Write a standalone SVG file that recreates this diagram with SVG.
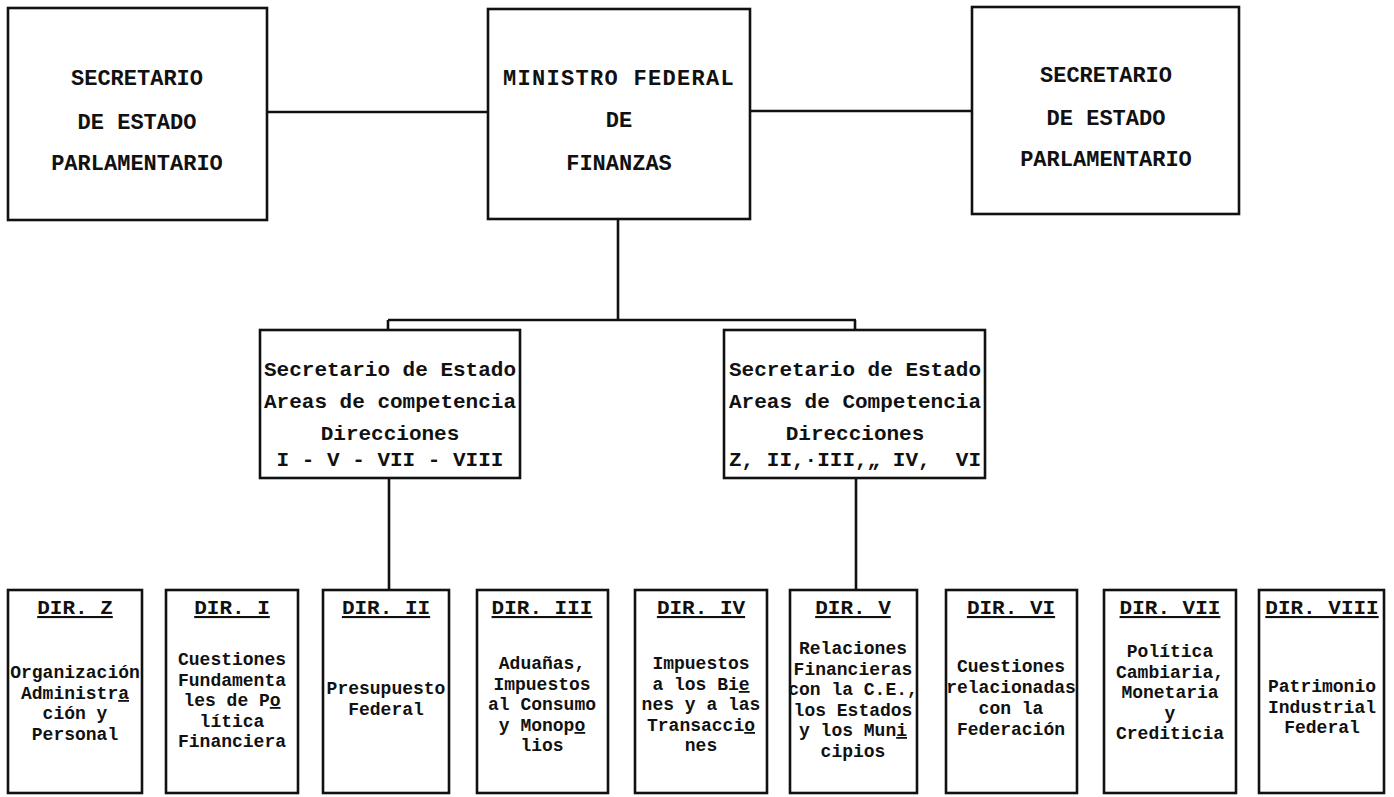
<svg xmlns="http://www.w3.org/2000/svg" width="1394" height="797" viewBox="0 0 1394 797">
<style>
.box{fill:#fff;stroke:#111;stroke-width:2.6}
.ln{fill:none;stroke:#111;stroke-width:2.6}
text{font-family:"Liberation Mono","Courier New",monospace;fill:#111;text-anchor:middle;font-weight:bold}
.top{font-size:22px}
.mid{font-size:21px}
.hd{font-size:21px;text-decoration:underline}
.bd{font-size:18px}
.u{text-decoration:underline}
</style>
<rect width="1394" height="797" fill="#fff"/>
<g id="connectors">
<line class="ln" x1="267" y1="112" x2="488" y2="112"/>
<line class="ln" x1="750" y1="111" x2="972" y2="111"/>
<line class="ln" x1="618" y1="219" x2="618" y2="320"/>
<line class="ln" x1="388" y1="320" x2="856" y2="320"/>
<line class="ln" x1="388" y1="320" x2="388" y2="330"/>
<line class="ln" x1="855" y1="320" x2="855" y2="330"/>
<line class="ln" x1="389" y1="478" x2="389" y2="590"/>
<line class="ln" x1="856" y1="478" x2="856" y2="590"/>
</g>
<g id="sec-parl-left">
<rect class="box" x="8" y="8" width="259" height="212"/>
<text class="top" x="137" y="85">SECRETARIO</text>
<text class="top" x="137" y="129">DE ESTADO</text>
<text class="top" x="137" y="170">PARLAMENTARIO</text>
</g>
<g id="ministro">
<rect class="box" x="488" y="9" width="262" height="210"/>
<text class="top" x="619" y="85" letter-spacing="1.3">MINISTRO FEDERAL</text>
<text class="top" x="619" y="127">DE</text>
<text class="top" x="619" y="170">FINANZAS</text>
</g>
<g id="sec-parl-right">
<rect class="box" x="972" y="7" width="267" height="207"/>
<text class="top" x="1106" y="82">SECRETARIO</text>
<text class="top" x="1106" y="125">DE ESTADO</text>
<text class="top" x="1106" y="166">PARLAMENTARIO</text>
</g>
<g id="sec-estado-1">
<rect class="box" x="260" y="330" width="260" height="148"/>
<text class="mid" x="390" y="376">Secretario de Estado</text>
<text class="mid" x="390" y="408">Areas de competencia</text>
<text class="mid" x="390" y="440">Direcciones</text>
<text class="mid" x="390" y="466">I - V - VII - VIII</text>
</g>
<g id="sec-estado-2">
<rect class="box" x="724" y="330" width="261" height="148"/>
<text class="mid" x="855" y="376">Secretario de Estado</text>
<text class="mid" x="855" y="408">Areas de Competencia</text>
<text class="mid" x="855" y="440">Direcciones</text>
<text class="mid" x="855" y="466" xml:space="preserve">Z, II,·III,„ IV,  VI</text>
</g>
<g id="dir-z">
<rect class="box" x="8" y="590" width="134" height="203"/>
<text class="hd" x="75" y="614">DIR. Z</text>
<text class="bd" x="75" y="678">Organización</text>
<text class="bd" x="75" y="699">Administr<tspan class="u">a</tspan></text>
<text class="bd" x="75" y="719">ción y</text>
<text class="bd" x="75" y="740">Personal</text>
</g>
<g id="dir-i">
<rect class="box" x="166" y="590" width="132" height="203"/>
<text class="hd" x="232" y="614">DIR. I</text>
<text class="bd" x="232" y="665">Cuestiones</text>
<text class="bd" x="232" y="686">Fundamenta</text>
<text class="bd" x="232" y="706" xml:space="preserve">les de P<tspan class="u">o</tspan></text>
<text class="bd" x="232" y="727">lítica</text>
<text class="bd" x="232" y="747">Financiera</text>
</g>
<g id="dir-ii">
<rect class="box" x="323" y="590" width="126" height="203"/>
<text class="hd" x="386" y="614">DIR. II</text>
<text class="bd" x="386" y="694">Presupuesto</text>
<text class="bd" x="386" y="715">Federal</text>
</g>
<g id="dir-iii">
<rect class="box" x="477" y="590" width="131" height="203"/>
<text class="hd" x="542" y="614">DIR. III</text>
<text class="bd" x="542" y="669">Aduañas,</text>
<text class="bd" x="542" y="690">Impuestos</text>
<text class="bd" x="542" y="710">al Consumo</text>
<text class="bd" x="542" y="731">y Monop<tspan class="u">o</tspan></text>
<text class="bd" x="542" y="751">lios</text>
</g>
<g id="dir-iv">
<rect class="box" x="635" y="590" width="132" height="203"/>
<text class="hd" x="701" y="614">DIR. IV</text>
<text class="bd" x="701" y="669">Impuestos</text>
<text class="bd" x="701" y="690">a los Bi<tspan class="u">e</tspan></text>
<text class="bd" x="701" y="710">nes y a las</text>
<text class="bd" x="701" y="731">Transacci<tspan class="u">o</tspan></text>
<text class="bd" x="701" y="751">nes</text>
</g>
<g id="dir-v">
<rect class="box" x="790" y="590" width="127" height="203"/>
<text class="hd" x="853" y="614">DIR. V</text>
<text class="bd" x="853" y="654">Relaciones</text>
<text class="bd" x="853" y="675">Financieras</text>
<text class="bd" x="853" y="695">con la C.E.,</text>
<text class="bd" x="853" y="716">los Estados</text>
<text class="bd" x="853" y="736">y los Mun<tspan class="u">i</tspan></text>
<text class="bd" x="853" y="757">cipios</text>
</g>
<g id="dir-vi">
<rect class="box" x="946" y="590" width="131" height="203"/>
<text class="hd" x="1011" y="614">DIR. VI</text>
<text class="bd" x="1011" y="672">Cuestiones</text>
<text class="bd" x="1011" y="693">relacionadas</text>
<text class="bd" x="1011" y="714">con la</text>
<text class="bd" x="1011" y="735">Federación</text>
</g>
<g id="dir-vii">
<rect class="box" x="1104" y="590" width="132" height="203"/>
<text class="hd" x="1170" y="614">DIR. VII</text>
<text class="bd" x="1170" y="657">Política</text>
<text class="bd" x="1170" y="678">Cambiaria,</text>
<text class="bd" x="1170" y="698">Monetaria</text>
<text class="bd" x="1170" y="719">y</text>
<text class="bd" x="1170" y="739">Crediticia</text>
</g>
<g id="dir-viii">
<rect class="box" x="1259" y="590" width="125" height="203"/>
<text class="hd" x="1322" y="614">DIR. VIII</text>
<text class="bd" x="1322" y="692">Patrimonio</text>
<text class="bd" x="1322" y="713">Industrial</text>
<text class="bd" x="1322" y="733">Federal</text>
</g>
</svg>
